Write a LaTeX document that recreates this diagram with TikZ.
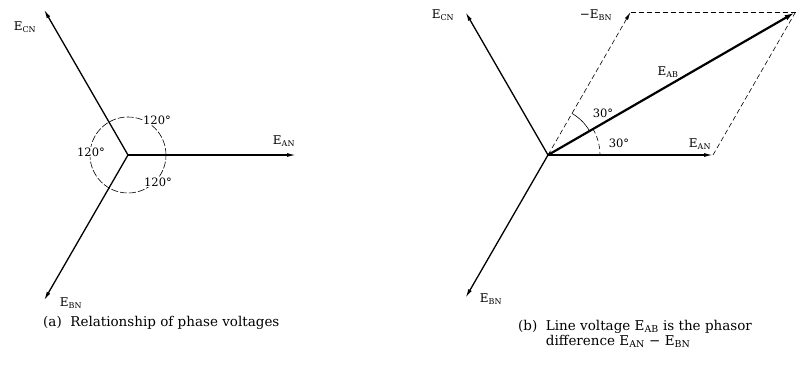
\documentclass[tikz,border=0pt]{standalone}
\usepackage{fontspec}
\setmainfont{DejaVu Serif}
\usetikzlibrary{positioning, arrows.meta}

\begin{document}
\begin{tikzpicture}[
    x=1pt, y=1pt,
    phasor/.style={-{Latex[length=9pt,width=4pt]}, line width=1.3pt},
    sumphasor/.style={-{Latex[length=11pt,width=5.5pt]}, line width=2.2pt},
    guide/.style={dash pattern=on 5pt off 3pt, line width=0.6pt},
    lbl/.style={inner sep=1pt, font=\fontsize{12}{13}\selectfont},
    ang/.style={inner sep=0.6pt, fill=white, font=\fontsize{11.5}{12}\selectfont},
    captext/.style={inner sep=0pt, font=\fontsize{13.5}{15}\selectfont, align=left}
]
\useasboundingbox (0,0) rectangle (796,368);

% (a) phase voltages
\coordinate (na) at (128,213);
\coordinate (ana) at ([shift={(0:168)}]na);
\coordinate (cna) at ([shift={(120:168)}]na);
\coordinate (bna) at ([shift={(240:168)}]na);

\draw[dash pattern=on 7pt off 2pt, line width=0.6pt] (na) circle[radius=38];
\draw[phasor] (na) -- (ana);
\draw[phasor] (na) -- (cna);
\draw[phasor] (na) -- (bna);

\node[lbl] (eana) at (284,227) {E\textsubscript{AN}};
\node[lbl] (ecna) at (25,341) {E\textsubscript{CN}};
\node[lbl] (ebna) at (71,65) {E\textsubscript{BN}};
\node[ang] (tca) at (157,248) {120°};
\node[ang] (tba) at (91,216) {120°};
\node[ang] (tab) at (158,186) {120°};

\node[captext, anchor=west] (capa) at (43,45) {(a)\ \ Relationship of phase voltages};

% (b) line voltage
\coordinate (nb) at (548,213);
\coordinate (anb) at ([shift={(0:165)}]nb);
\coordinate (cnb) at ([shift={(120:165)}]nb);
\coordinate (bnb) at ([shift={(240:165)}]nb);
\coordinate (mbn) at ([shift={(60:165)}]nb);
\coordinate (abb) at ([shift={(60:165)}]anb);

\draw[phasor] (nb) -- (cnb);
\draw[phasor] (nb) -- (bnb);
\draw[phasor] (nb) -- (anb);
\draw[guide, -{Latex[length=8pt,width=3.5pt]}] (nb) -- (mbn);
\draw[guide] (mbn) -- (abb);
\draw[guide] (anb) -- (abb);
\draw[sumphasor] (nb) -- (abb);

\draw[line width=0.6pt] ([shift={(60:48)}]nb) arc[start angle=60, end angle=30, radius=48];
\draw[guide] ([shift={(30:52)}]nb) arc[start angle=30, end angle=0, radius=52];

\node[lbl] (ecnb) at (443,353) {E\textsubscript{CN}};
\node[lbl] (ebnb) at (491,69) {E\textsubscript{BN}};
\node[lbl] (mebn) at (596,353) {−E\textsubscript{BN}};
\node[lbl] (eab) at (668,296) {E\textsubscript{AB}};
\node[lbl] (eanb) at (700,224) {E\textsubscript{AN}};
\node[ang, fill=none] (tmb) at (603,255) {30°};
\node[ang, fill=none] (tan) at (619,225) {30°};

\node[captext, anchor=north west] (capb) at (518,48) {%
  \begin{tabular}{@{}l@{\ \ }l@{}}
  (b) & Line voltage E\textsubscript{AB} is the phasor\\
      & difference E\textsubscript{AN} − E\textsubscript{BN}
  \end{tabular}};

\end{tikzpicture}
\end{document}
